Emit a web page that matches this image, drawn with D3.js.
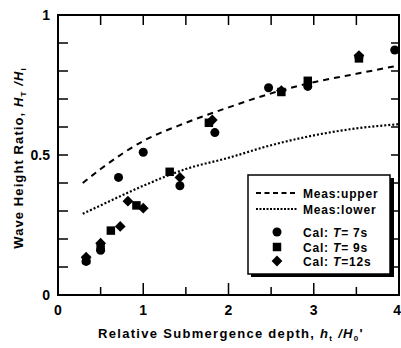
<!DOCTYPE html>
<html>
<head>
<meta charset="utf-8">
<script src="https://cdn.jsdelivr.net/npm/d3@7"></script>
<style>
  body { margin: 0; background: #fff; }
  svg text { font-family: "Liberation Sans", Arial, sans-serif; fill: #000; }
</style>
</head>
<body>
<svg id="chart" width="401" height="348"></svg>
<script>
// measured curves (upper / lower envelope)
const curveX = [0.29, 0.5, 1, 1.5, 2, 2.5, 3, 3.5, 4];
const upperY = [0.40, 0.45, 0.55, 0.615, 0.67, 0.72, 0.76, 0.79, 0.82];
const lowerY = [0.29, 0.32, 0.39, 0.45, 0.49, 0.535, 0.57, 0.595, 0.61];

// calculated points
const cal7 = [[0.33, 0.12], [0.5, 0.16], [0.71, 0.42], [1.0, 0.51], [1.43, 0.39], [1.84, 0.58], [2.47, 0.74], [2.93, 0.745], [3.53, 0.85], [3.95, 0.875]];
const cal9 = [[0.33, 0.125], [0.5, 0.17], [0.62, 0.23], [0.92, 0.32], [1.31, 0.44], [1.77, 0.615], [2.62, 0.725], [2.93, 0.765], [3.53, 0.845]];
const cal12 = [[0.33, 0.135], [0.5, 0.185], [0.73, 0.245], [0.82, 0.335], [1.0, 0.31], [1.43, 0.42], [1.81, 0.625], [2.62, 0.73], [3.53, 0.855]];

const xTicks = [0, 1, 2, 3, 4];
const yTicks = [0, 0.5, 1];

const svg = d3.select("#chart");
const x = d3.scaleLinear().domain([0, 4]).range([58, 399]);
const y = d3.scaleLinear().domain([0, 1]).range([295, 15]);

// ticks (inward)
const tickG = svg.append("g").attr("stroke", "#000").attr("stroke-width", 1.5);
d3.range(0, 4.01, 0.5).forEach(v => {
  const major = Math.abs(v - Math.round(v)) < 1e-6;
  tickG.append("line").attr("x1", x(v)).attr("x2", x(v)).attr("y1", y(0)).attr("y2", y(0) - (major ? 12 : 8));
  tickG.append("line").attr("x1", x(v)).attr("x2", x(v)).attr("y1", y(1)).attr("y2", y(1) + 10);
});
d3.range(0, 1.001, 0.1).forEach(v => {
  tickG.append("line").attr("x1", x(0)).attr("x2", x(0) + 10).attr("y1", y(v)).attr("y2", y(v));
  tickG.append("line").attr("x1", x(4)).attr("x2", x(4) - 8).attr("y1", y(v)).attr("y2", y(v));
});

// frame
svg.append("rect")
  .attr("x", x(0)).attr("y", y(1))
  .attr("width", x(4) - x(0)).attr("height", y(0) - y(1))
  .attr("fill", "none").attr("stroke", "#000").attr("stroke-width", 2);

// tick labels (last one kept inside the window)
svg.selectAll(".xt").data(xTicks).join("text")
  .attr("x", d => d === 4 ? 401 : x(d)).attr("y", 315)
  .attr("text-anchor", d => d === 4 ? "end" : "middle")
  .attr("font-size", 14).attr("font-weight", "bold")
  .text(d => d);
svg.selectAll(".yt").data(yTicks).join("text")
  .attr("x", 50).attr("y", d => y(d) + 5)
  .attr("text-anchor", "end").attr("font-size", 14).attr("font-weight", "bold")
  .text(d => d);

// axis titles
const xt = svg.append("text").attr("x", 231).attr("y", 338)
  .attr("text-anchor", "middle").attr("font-size", 13).attr("font-weight", "bold")
  .attr("letter-spacing", 1.3);
xt.append("tspan").text("Relative Submergence depth,  ");
xt.append("tspan").attr("font-style", "italic").text("h");
xt.append("tspan").attr("font-size", 8).attr("dy", 3).text("t");
xt.append("tspan").attr("dy", -3).attr("font-style", "italic").text(" /H");
xt.append("tspan").attr("font-size", 8).attr("dy", 3).text("0");
xt.append("tspan").attr("dy", -3).text("'");

const yt = svg.append("text").attr("transform", "translate(23,158) rotate(-90)")
  .attr("text-anchor", "middle").attr("font-size", 13).attr("font-weight", "bold")
  .attr("letter-spacing", 1.1);
yt.append("tspan").text("Wave Height Ratio,  ");
yt.append("tspan").attr("font-style", "italic").text("H");
yt.append("tspan").attr("font-size", 8).attr("dy", 3).text("T");
yt.append("tspan").attr("dy", -3).attr("font-style", "italic").text(" /H");
yt.append("tspan").attr("font-size", 8).attr("dy", 3).text("I");

// curves
const line = d3.line().x(d => x(d[0])).y(d => y(d[1])).curve(d3.curveMonotoneX);
svg.append("path").datum(curveX.map((v, i) => [v, upperY[i]]))
  .attr("d", line).attr("fill", "none").attr("stroke", "#000")
  .attr("stroke-width", 2).attr("stroke-dasharray", "6,5");
svg.append("path").datum(curveX.map((v, i) => [v, lowerY[i]]))
  .attr("d", line).attr("fill", "none").attr("stroke", "#000")
  .attr("stroke-width", 2.2).attr("stroke-dasharray", "2,2");

// markers (diamond = rotated square)
const sym = {
  circle: { d: d3.symbol().type(d3.symbolCircle).size(64)(), rot: 0 },
  square: { d: d3.symbol().type(d3.symbolSquare).size(72)(), rot: 0 },
  diamond: { d: d3.symbol().type(d3.symbolSquare).size(58)(), rot: 45 }
};
function drawPts(data, s) {
  svg.append("g").selectAll("path").data(data).join("path")
    .attr("transform", d => `translate(${x(d[0])},${y(d[1])}) rotate(${sym[s].rot})`)
    .attr("d", sym[s].d).attr("fill", "#000");
}
drawPts(cal7, "circle");
drawPts(cal9, "square");
drawPts(cal12, "diamond");

// legend
const lg = svg.append("g");
lg.append("rect").attr("x", 251).attr("y", 178).attr("width", 143).attr("height", 99).attr("fill", "#000");
lg.append("rect").attr("x", 248).attr("y", 175).attr("width", 142).attr("height", 99)
  .attr("fill", "#fff").attr("stroke", "#000").attr("stroke-width", 1.5);
const legendItems = [
  { label: ["Meas:upper"], kind: "dash", y: 193 },
  { label: ["Meas:lower"], kind: "dot", y: 209 },
  { label: ["Cal: ", "T", "= 7s"], kind: "circle", y: 232 },
  { label: ["Cal: ", "T", "= 9s"], kind: "square", y: 247 },
  { label: ["Cal: ", "T", "=12s"], kind: "diamond", y: 261 }
];
legendItems.forEach(it => {
  if (it.kind === "dash" || it.kind === "dot") {
    lg.append("line").attr("x1", 256).attr("x2", 297).attr("y1", it.y).attr("y2", it.y)
      .attr("stroke", "#000").attr("stroke-width", 2)
      .attr("stroke-dasharray", it.kind === "dash" ? "5,3.5" : "2,1.5");
  } else {
    lg.append("path").attr("transform", `translate(277,${it.y}) rotate(${sym[it.kind].rot})`)
      .attr("d", sym[it.kind].d).attr("fill", "#000");
  }
  const t = lg.append("text").attr("x", 303).attr("y", it.y + 4.5)
    .attr("font-size", 12).attr("font-weight", "bold").attr("letter-spacing", 0.8);
  it.label.forEach((s, i) => {
    t.append("tspan").attr("font-style", i === 1 ? "italic" : null).text(s);
  });
});
</script>
</body>
</html>
